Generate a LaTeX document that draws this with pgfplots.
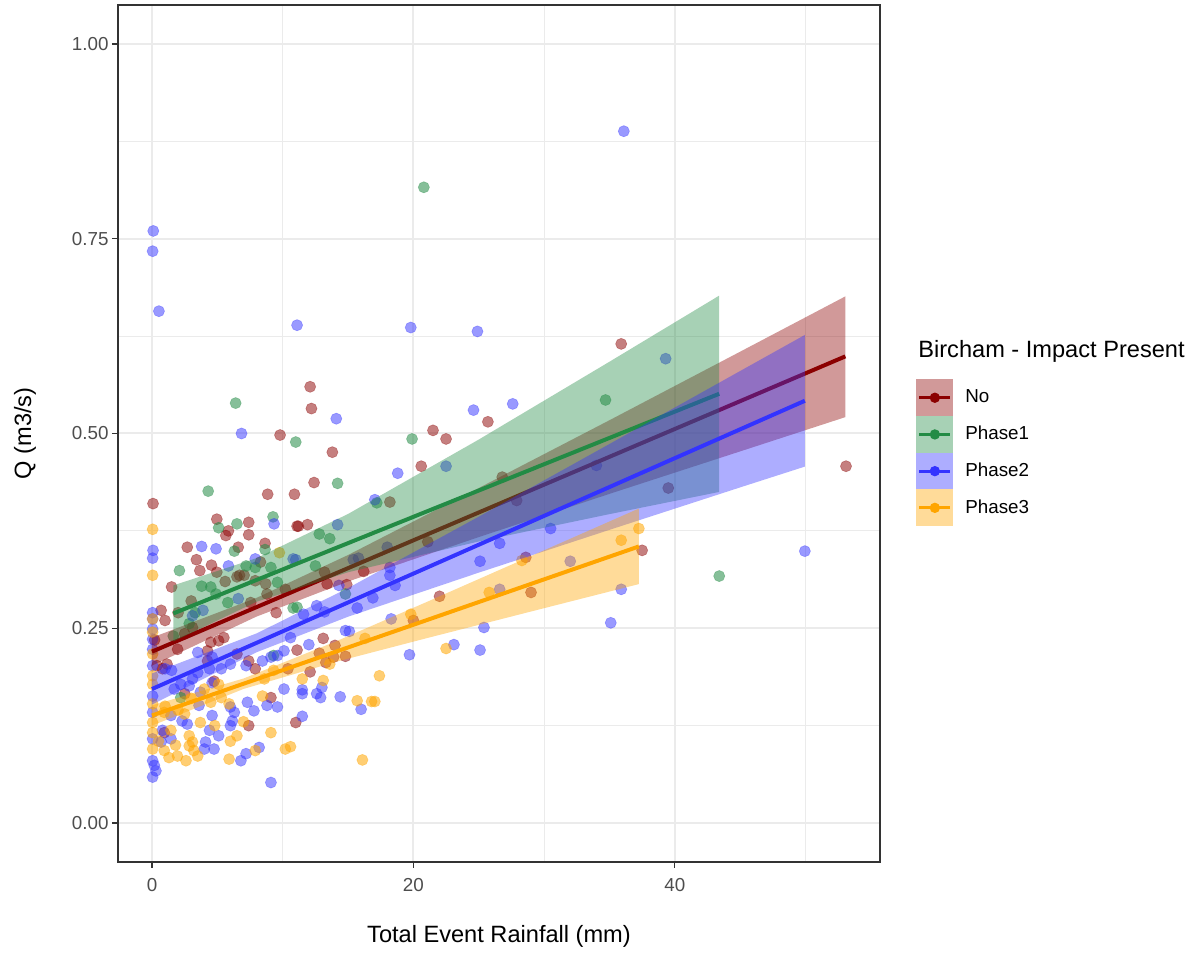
\documentclass[border=0pt]{standalone}
\usepackage{pgfplots}
\pgfplotsset{compat=1.18}
\usepackage{fontspec}
\setmainfont{Liberation Sans}
\definecolor{cRed}{HTML}{8B0000}
\definecolor{cGreen}{HTML}{238B45}
\definecolor{cBlue}{HTML}{3333FF}
\definecolor{cOrange}{HTML}{FFA500}
\definecolor{gridc}{HTML}{EBEBEB}
\definecolor{axc}{HTML}{333333}
\definecolor{tickc}{HTML}{4D4D4D}
\begin{document}
\begin{tikzpicture}
\useasboundingbox (0,0) rectangle (598pt,476.5pt);
\begin{axis}[
 at={(59pt,45.5pt)}, anchor=south west,
 scale only axis, width=381pt, height=428.5pt,
 xmin=-2.6, xmax=55.7, ymin=-0.05, ymax=1.05,
 xtick={0,20,40}, ytick={0,0.25,0.5,0.75,1},
 minor xtick={10,30,50}, minor ytick={0.125,0.375,0.625,0.875},
 grid=both,
 major grid style={draw=gridc, line width=1pt},
 minor grid style={draw=gridc, line width=0.5pt},
 axis line style={draw=axc, line width=0.7pt},
 tick style={draw=axc, line width=0.6pt},
 major tick length=3pt, minor tick length=0pt,
 tick align=outside, xtick pos=left, ytick pos=left,
 /pgf/number format/assume math mode=true,
 ticklabel style={font=\fontsize{9.4}{11}\selectfont, text=tickc},
 xticklabel style={yshift=-1.5pt},
 yticklabel style={xshift=1.8pt, /pgf/number format/.cd, fixed, fixed zerofill, precision=2},
 label style={font=\fontsize{11.8}{14}\selectfont},
 xlabel={Total Event Rainfall (mm)},
 ylabel={Q (m3/s)},
 xlabel style={at={(axis description cs:0.5,-0.0865)}, anchor=center},
 ylabel style={at={(axis description cs:-0.122,0.5)}, anchor=center},
 legend style={at={(axis description cs:1.0472,0.5636)}, anchor=north west, draw=none, fill=none, inner sep=0pt, row sep=0pt, column sep=6pt, nodes={inner sep=0pt, draw=none}, font=\fontsize{9.4}{11}\selectfont, text=black},
 legend cell align=left,
 clip mode=individual,
]
\addlegendimage{legend image code/.code={%
 \path[draw=none, fill=cRed, fill opacity=0.4] (0pt,-9.175pt) rectangle (18.5pt,9.175pt);
 \draw[cRed, line width=1.6pt] (1.5pt,0pt) -- (17pt,0pt);
 \path[draw=none, fill=cRed] (9.25pt,0pt) circle (2.6pt);}}
\addlegendentry{No}
\addlegendimage{legend image code/.code={%
 \path[draw=none, fill=cGreen, fill opacity=0.4] (0pt,-9.175pt) rectangle (18.5pt,9.175pt);
 \draw[cGreen, line width=1.6pt] (1.5pt,0pt) -- (17pt,0pt);
 \path[draw=none, fill=cGreen] (9.25pt,0pt) circle (2.6pt);}}
\addlegendentry{Phase1}
\addlegendimage{legend image code/.code={%
 \path[draw=none, fill=cBlue, fill opacity=0.4] (0pt,-9.175pt) rectangle (18.5pt,9.175pt);
 \draw[cBlue, line width=1.6pt] (1.5pt,0pt) -- (17pt,0pt);
 \path[draw=none, fill=cBlue] (9.25pt,0pt) circle (2.6pt);}}
\addlegendentry{Phase2}
\addlegendimage{legend image code/.code={%
 \path[draw=none, fill=cOrange, fill opacity=0.4] (0pt,-9.175pt) rectangle (18.5pt,9.175pt);
 \draw[cOrange, line width=1.6pt] (1.5pt,0pt) -- (17pt,0pt);
 \path[draw=none, fill=cOrange] (9.25pt,0pt) circle (2.6pt);}}
\addlegendentry{Phase3}

% ---------- points ----------
\addplot[forget plot, only marks, mark=*, mark size=2.8pt, mark options={draw=cRed, fill=cRed, fill opacity=0.5, draw opacity=0.35, line width=0.3pt}] coordinates {
(0.08,0.410) (9.8,0.498) (8.85,0.422) (10.9,0.422) (4.96,0.390) (7.4,0.386) (11.1,0.381) (5.85,0.375) (5.65,0.369) (7.4,0.370) (2.7,0.354) (6.6,0.354) (8.65,0.359) (3.4,0.338) (4.55,0.331) (3.66,0.324) (8.3,0.335) (4.96,0.322) (6.7,0.318) (1.5,0.303) (5.6,0.310) (6.5,0.316) (7.05,0.318) (7.9,0.311) (8.7,0.307) (8.8,0.294) (7.55,0.283) (0.7,0.273) (0.38,0.202) (0.8,0.198) (1.15,0.204) (1.96,0.223) (2.5,0.243) (3.1,0.251) (4.5,0.232) (4.25,0.221) (5.1,0.234) (5.5,0.238) (4.25,0.208) (6.5,0.217) (7.4,0.208) (7.9,0.198) (10.4,0.198) (2.5,0.166) (4.75,0.182) (9.1,0.161) (7.4,0.125) (0.94,0.116) (11.0,0.129) (12.1,0.560) (12.2,0.532) (13.8,0.476) (21.5,0.504) (22.5,0.493) (20.6,0.458) (12.4,0.437) (18.2,0.412) (11.2,0.381) (11.9,0.383) (21.1,0.361) (13.2,0.322) (16.2,0.323) (14.9,0.306) (13.4,0.307) (22.0,0.291) (20.0,0.260) (13.1,0.237) (11.1,0.222) (12.8,0.218) (13.3,0.206) (12.1,0.194) (35.9,0.615) (25.7,0.515) (26.8,0.444) (27.9,0.414) (39.5,0.430) (37.5,0.350) (29.0,0.296) (53.1,0.458) (14.0,0.228) (14.8,0.214) (13.9,0.213) (28.6,0.341) (0.2,0.235) (1.0,0.260) (2.0,0.270) (3.0,0.285) (9.5,0.270) (10.2,0.300)
};
\addplot[forget plot, only marks, mark=*, mark size=2.8pt, mark options={draw=cGreen, fill=cGreen, fill opacity=0.55, draw opacity=0.35, line width=0.3pt}] coordinates {
(20.8,0.816) (6.4,0.539) (11.0,0.489) (4.3,0.426) (9.26,0.393) (5.1,0.379) (6.5,0.384) (6.3,0.349) (8.65,0.351) (2.1,0.324) (7.2,0.330) (9.1,0.328) (3.8,0.304) (4.5,0.303) (4.9,0.294) (9.6,0.309) (5.8,0.283) (2.85,0.256) (2.2,0.161) (19.9,0.493) (14.2,0.436) (17.2,0.411) (12.8,0.371) (13.6,0.365) (12.5,0.330) (14.8,0.294) (11.1,0.277) (34.7,0.543) (43.4,0.317) (9.3,0.215) (10.8,0.276) (7.9,0.328) (1.63,0.240) (3.3,0.270)
};
\addplot[forget plot, only marks, mark=*, mark size=2.8pt, mark options={draw=cBlue, fill=cBlue, fill opacity=0.5, draw opacity=0.35, line width=0.3pt}] coordinates {
(0.1,0.760) (0.05,0.734) (0.53,0.657) (11.1,0.639) (19.8,0.636) (24.9,0.631) (36.1,0.888) (6.85,0.500) (9.34,0.384) (0.08,0.350) (0.05,0.340) (3.8,0.355) (4.9,0.352) (5.85,0.330) (7.9,0.339) (10.8,0.339) (6.6,0.288) (0.05,0.270) (0.05,0.262) (0.05,0.249) (0.05,0.236) (0.05,0.223) (0.05,0.202) (0.05,0.163) (0.05,0.142) (0.05,0.108) (0.05,0.080) (0.18,0.074) (0.3,0.067) (0.05,0.059) (1.0,0.198) (1.5,0.196) (3.1,0.266) (3.9,0.273) (3.5,0.219) (4.6,0.213) (5.3,0.198) (3.5,0.193) (4.4,0.198) (6.0,0.204) (7.2,0.202) (8.45,0.208) (9.1,0.213) (9.6,0.215) (10.1,0.221) (2.2,0.178) (2.85,0.176) (3.1,0.185) (1.7,0.172) (3.7,0.168) (4.6,0.180) (3.6,0.151) (6.3,0.142) (6.0,0.149) (7.3,0.155) (7.8,0.144) (8.8,0.151) (9.6,0.149) (1.45,0.138) (2.3,0.131) (2.7,0.127) (4.6,0.138) (4.4,0.119) (6.0,0.125) (6.15,0.131) (5.1,0.112) (0.8,0.119) (1.45,0.108) (0.7,0.104) (4.1,0.104) (4.0,0.095) (4.75,0.095) (6.8,0.080) (7.2,0.089) (8.2,0.097) (9.1,0.052) (10.1,0.172) (14.1,0.519) (22.5,0.458) (18.8,0.449) (17.05,0.415) (14.2,0.383) (11.0,0.338) (15.4,0.338) (15.8,0.340) (18.0,0.354) (18.2,0.328) (18.2,0.318) (14.3,0.305) (18.3,0.262) (15.7,0.276) (16.9,0.289) (11.6,0.268) (12.6,0.279) (13.2,0.271) (10.6,0.238) (14.8,0.247) (15.1,0.246) (12.0,0.229) (11.5,0.171) (11.5,0.166) (12.6,0.166) (12.9,0.161) (13.0,0.174) (14.4,0.162) (16.0,0.146) (11.5,0.137) (19.7,0.216) (23.1,0.229) (39.3,0.596) (24.6,0.530) (27.6,0.538) (30.5,0.378) (26.6,0.359) (25.1,0.336) (32.0,0.336) (26.6,0.300) (35.9,0.300) (25.4,0.251) (25.1,0.222) (35.1,0.257) (49.95,0.349) (34.0,0.459) (18.6,0.305)
};
\addplot[forget plot, only marks, mark=*, mark size=2.8pt, mark options={draw=cOrange, fill=cOrange, fill opacity=0.55, draw opacity=0.35, line width=0.3pt}] coordinates {
(0.05,0.377) (0.05,0.318) (0.05,0.262) (0.05,0.245) (0.05,0.217) (0.05,0.189) (0.05,0.178) (0.05,0.153) (0.05,0.129) (0.05,0.116) (0.05,0.095) (9.3,0.196) (8.6,0.185) (4.0,0.172) (5.1,0.178) (5.3,0.161) (4.5,0.155) (5.9,0.153) (8.45,0.163) (0.94,0.142) (2.5,0.140) (3.7,0.129) (6.5,0.112) (9.1,0.116) (1.45,0.119) (2.85,0.112) (3.1,0.104) (2.85,0.099) (3.2,0.093) (3.5,0.086) (2.6,0.080) (1.3,0.084) (1.95,0.086) (0.94,0.093) (5.9,0.082) (7.9,0.093) (10.2,0.095) (9.75,0.347) (19.8,0.268) (16.3,0.237) (13.6,0.204) (11.5,0.185) (13.1,0.183) (17.4,0.189) (15.7,0.157) (16.8,0.156) (17.05,0.156) (10.6,0.098) (16.1,0.081) (22.5,0.224) (37.25,0.378) (35.9,0.363) (28.3,0.337) (25.8,0.296) (1.0,0.150) (2.0,0.145) (4.8,0.125) (6.0,0.105) (7.0,0.130) (3.0,0.160) (0.5,0.105) (1.8,0.100)
};

% ---------- smooths ----------
\addplot[forget plot, draw=none, fill=cRed, fill opacity=0.4] coordinates {
(0,0.238) (8,0.289) (15,0.344) (25,0.430) (35,0.517) (45,0.605) (53.05,0.676)
(53.05,0.521) (45,0.477) (35,0.4225) (25,0.367) (15,0.310) (8,0.265) (0,0.202)} -- cycle;
\addplot[forget plot, cRed, line width=2pt] coordinates {(0,0.220) (53.05,0.599)};

\addplot[forget plot, draw=none, fill=cGreen, fill opacity=0.4] coordinates {
(1.63,0.305) (8,0.340) (15,0.3967) (25,0.4922) (35,0.5921) (43.4,0.677)
(43.4,0.425) (35,0.3965) (25,0.3614) (15,0.3219) (8,0.284) (1.63,0.233)} -- cycle;
\addplot[forget plot, cGreen, line width=2pt] coordinates {(1.63,0.269) (43.4,0.551)};

\addplot[forget plot, draw=none, fill=cBlue, fill opacity=0.4] coordinates {
(0,0.192) (8,0.2434) (15,0.3016) (25,0.3932) (35,0.4865) (45,0.5802) (49.95,0.6265)
(49.95,0.4575) (45,0.4308) (35,0.3763) (25,0.3214) (15,0.2648) (8,0.2192) (0,0.152)} -- cycle;
\addplot[forget plot, cBlue, line width=2pt] coordinates {(0,0.172) (49.95,0.542)};

\addplot[forget plot, draw=none, fill=cOrange, fill opacity=0.4] coordinates {
(0,0.151) (7,0.1855) (14,0.2326) (21,0.2836) (29,0.3427) (37.25,0.4037)
(37.25,0.3067) (29,0.2715) (21,0.2372) (14,0.2066) (7,0.1721) (0,0.125)} -- cycle;
\addplot[forget plot, cOrange, line width=2pt] coordinates {(0,0.138) (37.25,0.355)};
\end{axis}
\node[anchor=west, inner sep=0pt, font=\fontsize{11.8}{14}\selectfont] at (459pt,301pt) {Bircham - Impact Present};
\end{tikzpicture}
\end{document}
